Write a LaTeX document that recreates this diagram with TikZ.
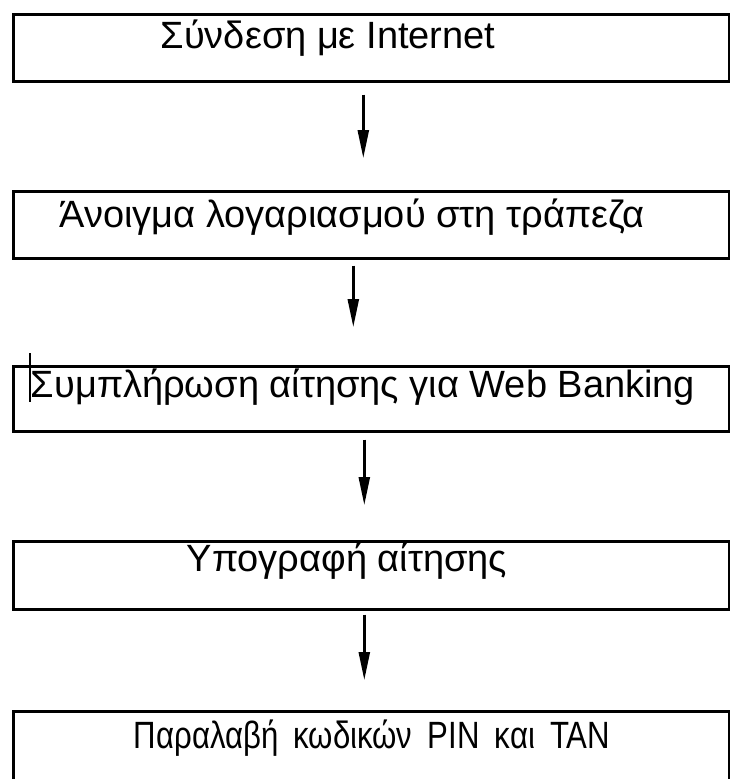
\documentclass[tikz,border=0pt]{standalone}
\usepackage{fontspec}
\setmainfont{Liberation Sans}
\usetikzlibrary{arrows.meta}

\begin{document}
\begin{tikzpicture}[x=1pt,y=-1pt,
  stepbox/.style={draw, line width=2.6pt, minimum width=716pt, minimum height=67pt, anchor=north west, inner sep=0pt},
  steptext/.style={anchor=base, inner sep=0pt, font=\fontsize{38}{45}\selectfont},
  flow/.style={line width=2.4pt, -{Triangle[length=28pt,width=11pt]}}]
\clip (0,0) rectangle (730,779);
\fill[white] (0,0) rectangle (730,779);
\draw[]
(12,13) node[stepbox] (b1) {}
(12,190) node[stepbox] (b2) {}
(12,365) node[stepbox, minimum height=65pt] (b3) {}
(12,540) node[stepbox, minimum height=68pt] (b4) {}
(12,710) node[stepbox, minimum height=100pt] (b5) {};
\draw[]
(328,48) node[steptext] (t1) {Σύνδεση με Internet}
(352,227) node[steptext] (t2) {Άνοιγμα λογαριασμού στη τράπεζα}
(363,397) node[steptext] (t3) {Συμπλήρωση αίτησης για Web Banking}
(347,571) node[steptext] (t4) {Υπογραφή αίτησης}
(372,748) node[steptext] (t5) {\addfontfeature{FakeStretch=0.82}Παραλαβή\hspace{0.4em}κωδικών\hspace{0.4em}PIN\hspace{0.4em}και\hspace{0.4em}TAN};
% stray mark before the third text
\draw[line width=1.8pt] (30,353) -- (30,402);
\draw[flow, shorten <=12pt, shorten >=32pt] ([xshift=-8pt]b1.south) -- ([xshift=-8pt]b2.north);
\draw[flow, shorten <=6pt, shorten >=38pt] ([xshift=-18pt]b2.south) -- ([xshift=-18pt]b3.north);
\draw[flow, shorten <=7pt, shorten >=35pt] ([xshift=-7pt]b3.south) -- ([xshift=-7pt]b4.north);
\draw[flow, shorten <=4pt, shorten >=30pt] ([xshift=-7pt]b4.south) -- ([xshift=-7pt]b5.north);
\end{tikzpicture}
\end{document}
